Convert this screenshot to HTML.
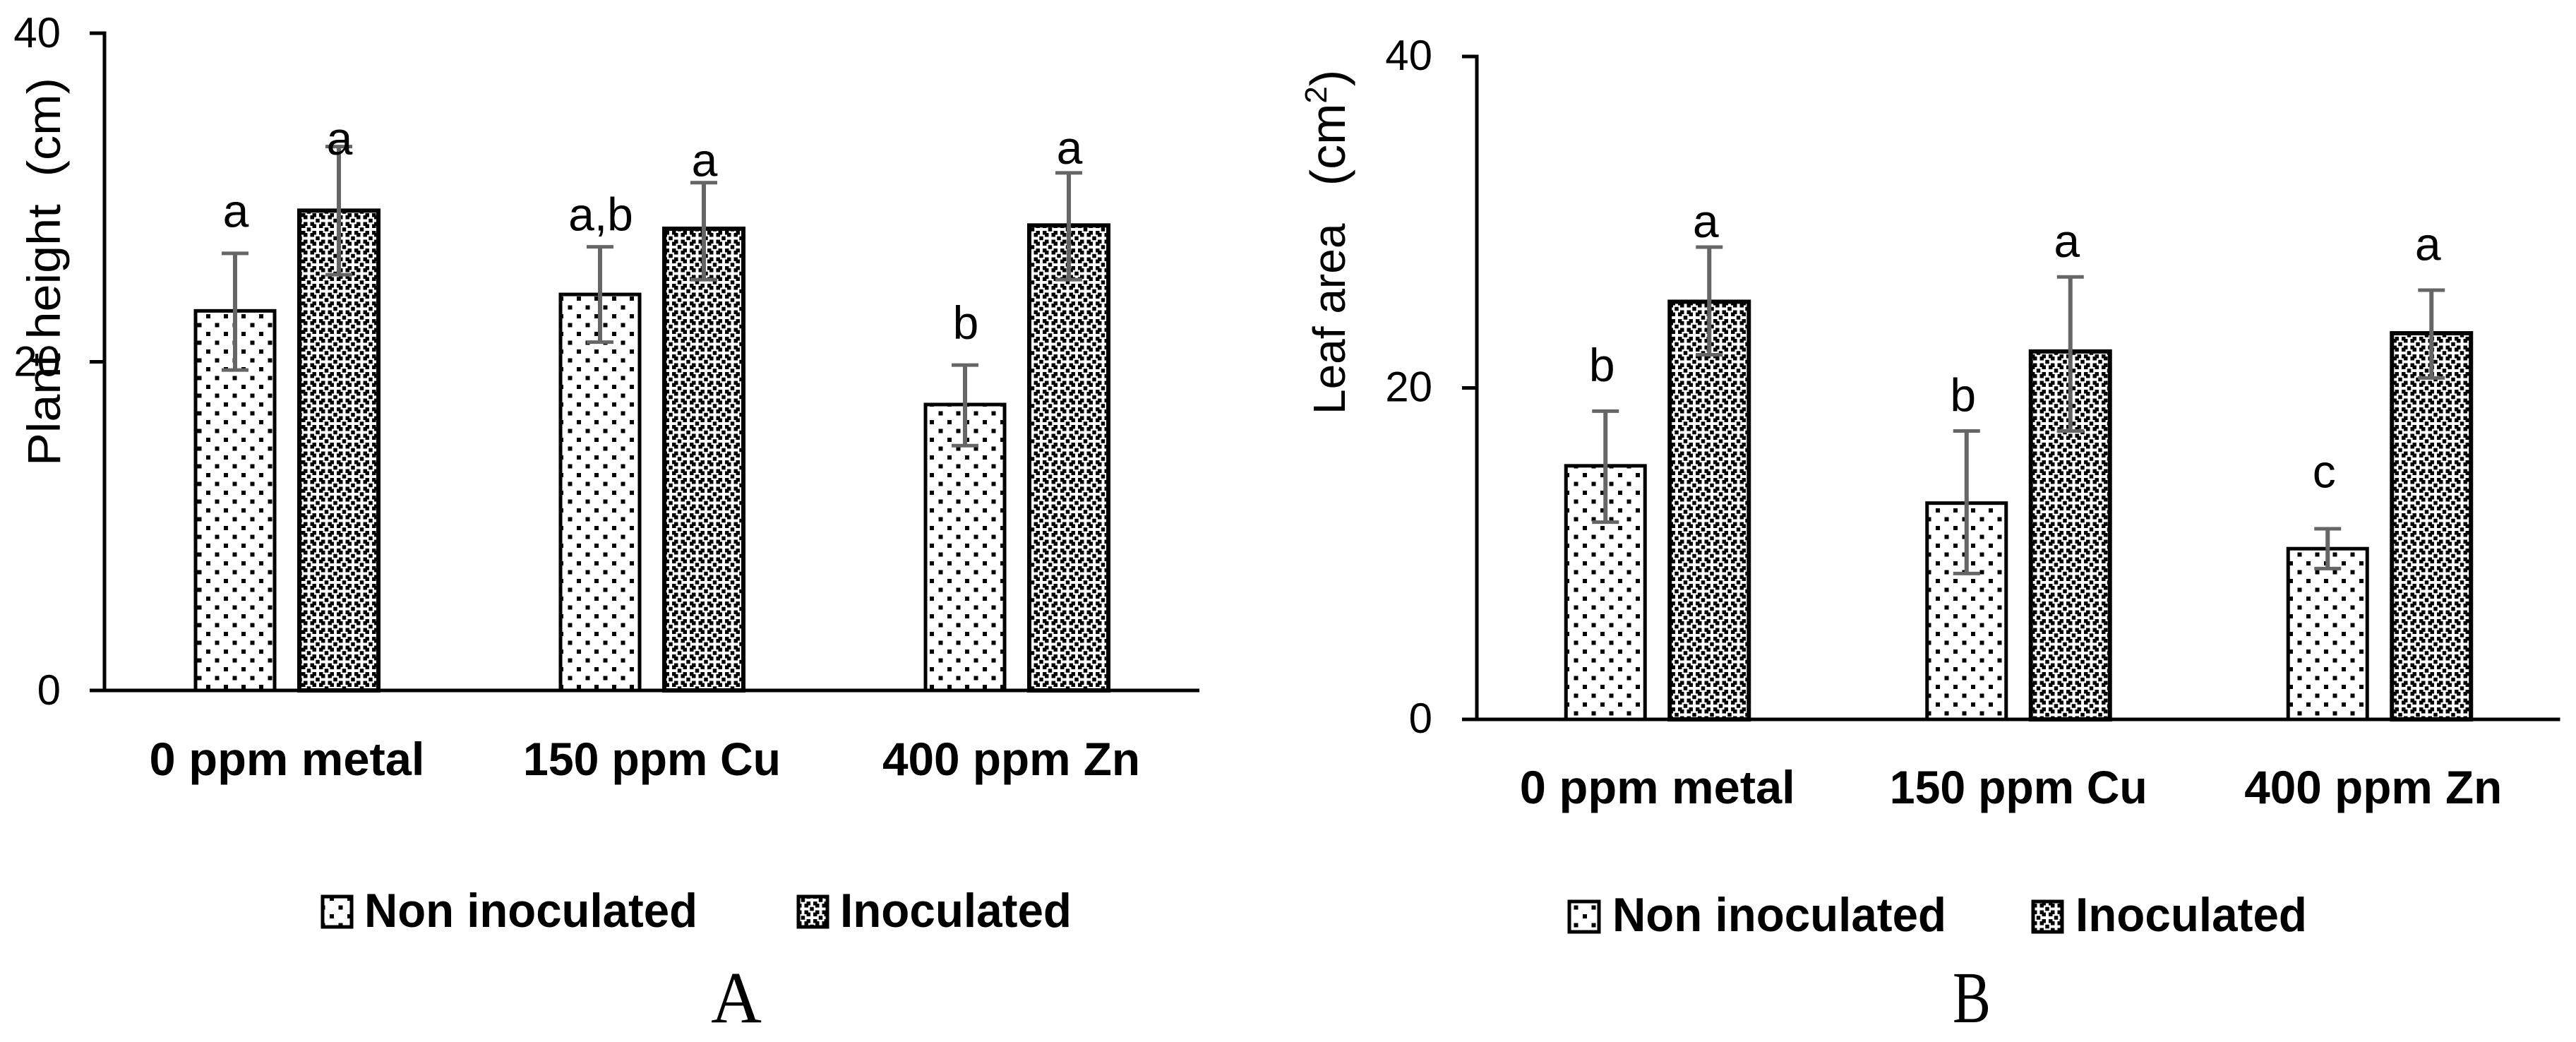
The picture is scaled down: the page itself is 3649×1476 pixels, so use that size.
<!DOCTYPE html>
<html lang="en">
<head>
<meta charset="utf-8">
<title>Plant height and leaf area</title>
<style>
html,body{margin:0;padding:0;background:#fff}
svg{display:block}
text{font-family:"Liberation Sans",sans-serif;fill:#000;white-space:pre}
.b{font-weight:bold}
.s{font-family:"Liberation Serif",serif}
</style>
</head>
<body>
<svg id="chart" xmlns="http://www.w3.org/2000/svg" width="3649" height="1476" viewBox="0 0 3649 1476">
<defs>
<pattern id="dots" patternUnits="userSpaceOnUse" width="25" height="25" patternTransform="translate(4.5 7.5)">
<rect width="25" height="25" fill="#fff"/>
<rect x="0" y="0" width="6" height="6" fill="#000"/>
<rect x="12.5" y="12.5" width="6" height="6" fill="#000"/>
</pattern>
<pattern id="dense" patternUnits="userSpaceOnUse" width="25" height="25">
<rect width="25" height="25" fill="#fff"/>
<rect x="2" y="2" width="5.5" height="5.5" fill="#000"/>
<rect x="17.5" y="2" width="5.5" height="5.5" fill="#000"/>
<rect x="2" y="17.5" width="5.5" height="5.5" fill="#000"/>
<rect x="17.5" y="17.5" width="5.5" height="5.5" fill="#000"/>
<rect x="5" y="5" width="5.5" height="5.5" fill="#000"/>
<rect x="14.5" y="5" width="5.5" height="5.5" fill="#000"/>
<rect x="5" y="14.5" width="5.5" height="5.5" fill="#000"/>
<rect x="14.5" y="14.5" width="5.5" height="5.5" fill="#000"/>
<rect x="9.75" y="-2.75" width="5.5" height="5.5" fill="#000"/>
<rect x="9.75" y="22.25" width="5.5" height="5.5" fill="#000"/>
<rect x="-2.75" y="9.75" width="5.5" height="5.5" fill="#000"/>
<rect x="22.25" y="9.75" width="5.5" height="5.5" fill="#000"/>
</pattern>
</defs>

<g id="panelA"></g>
<g id="panelB"></g>

<text transform="translate(85 660) rotate(-90)" font-size="66" textLength="550" lengthAdjust="spacingAndGlyphs">Plant height  (cm)</text>
<text transform="translate(1905 587) rotate(-90)" font-size="64">Leaf area   <tspan font-size="70">(cm</tspan><tspan font-size="44" dy="-26">2</tspan><tspan font-size="70" dy="26">)</tspan></text>

<g>
<rect x="457" y="1270" width="41" height="43" fill="url(#dots)" stroke="#000" stroke-width="5"/>
<text class="b" x="516" y="1313" font-size="68" textLength="472" lengthAdjust="spacingAndGlyphs">Non inoculated</text>
<rect x="1131" y="1270" width="41" height="43" fill="url(#dense)" stroke="#000" stroke-width="5"/>
<text class="b" x="1190" y="1313" font-size="68" textLength="328" lengthAdjust="spacingAndGlyphs">Inoculated</text>
</g>
<g>
<rect x="2223" y="1277" width="42" height="43" fill="url(#dots)" stroke="#000" stroke-width="5"/>
<text class="b" x="2284" y="1319" font-size="68" textLength="473" lengthAdjust="spacingAndGlyphs">Non inoculated</text>
<rect x="2880" y="1277" width="41" height="43" fill="url(#dense)" stroke="#000" stroke-width="5"/>
<text class="b" x="2940" y="1319" font-size="68" textLength="328" lengthAdjust="spacingAndGlyphs">Inoculated</text>
</g>

<text class="s" x="1007" y="1448" font-size="104" textLength="72" lengthAdjust="spacingAndGlyphs">A</text>
<text class="s" x="2766" y="1448" font-size="104" textLength="54" lengthAdjust="spacingAndGlyphs">B</text>
</svg>

<script>
const categories = ['0 ppm metal', '150 ppm Cu', '400 ppm Zn'];
const tickValues = [0, 20, 40];

const heightNon = [23.1, 24.1, 17.4];
const heightNonUpper = [26.6, 27.0, 19.8];
const heightNonLower = [19.5, 21.2, 14.9];
const heightIno = [29.2, 28.1, 28.3];
const heightInoUpper = [33.1, 30.9, 31.5];
const heightInoLower = [25.3, 25.0, 25.0];
const heightNonLetters = ['a', 'a,b', 'b'];
const heightInoLetters = ['a', 'a', 'a'];
const heightNonLetterAt = [28.2, 28.0, 21.4];
const heightInoLetterAt = [32.6, 31.3, 32.05];

const leafNon = [15.3, 13.05, 10.3];
const leafNonUpper = [18.6, 17.4, 11.5];
const leafNonLower = [11.9, 8.8, 9.1];
const leafIno = [25.2, 22.2, 23.3];
const leafInoUpper = [28.5, 26.7, 25.9];
const leafInoLower = [22.0, 17.4, 20.6];
const leafNonLetters = ['b', 'b', 'c'];
const leafInoLetters = ['a', 'a', 'a'];
const leafNonLetterAt = [20.4, 18.6, 14.0];
const leafInoLetterAt = [29.1, 27.9, 27.7];

const SVGNS = 'http://www.w3.org/2000/svg';

function makeEl(tag, parent) {
  const el = document.createElementNS(SVGNS, tag);
  parent.appendChild(el);
  return el;
}

function setLine(el, x1, y1, x2, y2, color, width) {
  el.setAttribute('x1', x1);
  el.setAttribute('y1', y1);
  el.setAttribute('x2', x2);
  el.setAttribute('y2', y2);
  el.setAttribute('stroke', color);
  el.setAttribute('stroke-width', width);
}

function drawPanel(panel, layout, series) {
  const yScale = v => layout.y0 - (v / 40) * (layout.y0 - layout.y40);
  const center = i => layout.x0 + (i + 0.5) * layout.step;

  tickValues.forEach(v => {
    const tick = makeEl('line', panel);
    
    
    setLine(tick, layout.x0 - 21, yScale(v), layout.x0, yScale(v), '#000', 5);
    const label = makeEl('text', panel);
    
    
    label.setAttribute('x', layout.tickRight);
    label.setAttribute('y', yScale(v) + layout.tickDrop);
    label.setAttribute('font-size', 60);
    label.setAttribute('text-anchor', 'end');
    label.textContent = String(v);
  });

  series.forEach((s, k) => {
    categories.forEach((c, i) => {
      const cx = center(i) + (k === 0 ? -73.5 : 73.5);
      const top = yScale(s.values[i]);
      const bar = makeEl('rect', panel);
      
      
      bar.setAttribute('x', cx - 56);
      bar.setAttribute('y', top);
      bar.setAttribute('width', 112);
      bar.setAttribute('height', layout.y0 - top);
      bar.setAttribute('fill', k === 0 ? 'url(#dots)' : 'url(#dense)');
      bar.setAttribute('stroke', '#000');
      bar.setAttribute('stroke-width', k === 0 ? 5 : 6);

      const hi = yScale(s.upper[i]);
      const lo = yScale(s.lower[i]);
      const stem = makeEl('line', panel);
      
      
      setLine(stem, cx, hi, cx, lo, '#666', 6);
      const capTop = makeEl('line', panel);
      
      
      setLine(capTop, cx - 19, hi, cx + 19, hi, '#666', 5);
      const capBot = makeEl('line', panel);
      
      
      setLine(capBot, cx - 19, lo, cx + 19, lo, '#666', 5);

      const letter = makeEl('text', panel);
      
      
      letter.setAttribute('x', cx + layout.letterShift);
      letter.setAttribute('y', yScale(s.letterAt[i]));
      letter.setAttribute('font-size', 66);
      letter.setAttribute('text-anchor', 'middle');
      letter.textContent = s.letters[i];
    });
  });

  const yAxis = makeEl('line', panel);
  
  
  setLine(yAxis, layout.x0, layout.y40 - 2.5, layout.x0, layout.y0, '#000', 5);
  const xAxis = makeEl('line', panel);
  
  
  setLine(xAxis, layout.x0 - 21, layout.y0, layout.x0 + 3 * layout.step, layout.y0, '#000', 5);

  categories.forEach((c, i) => {
    const label = makeEl('text', panel);
    
    
    label.setAttribute('class', 'b');
    label.setAttribute('x', center(i) + (i === 2 ? layout.lastCatShift : layout.catShift));
    label.setAttribute('y', layout.catY);
    label.setAttribute('font-size', 66);
    label.setAttribute('text-anchor', 'middle');
    label.setAttribute('textLength', i === 0 ? 390 : 365);
    label.setAttribute('lengthAdjust', 'spacingAndGlyphs');
    label.textContent = c;
  });
}

drawPanel(document.getElementById('panelA'),
  { x0: 148, step: 517, y0: 978, y40: 47, tickRight: 86, tickDrop: 20, catShift: 0, lastCatShift: -8, catY: 1098, letterShift: 1 },
  [
    { key: 'non-inoculated', values: heightNon, upper: heightNonUpper, lower: heightNonLower, letters: heightNonLetters, letterAt: heightNonLetterAt },
    { key: 'inoculated', values: heightIno, upper: heightInoUpper, lower: heightInoLower, letters: heightInoLetters, letterAt: heightInoLetterAt }
  ]);

drawPanel(document.getElementById('panelB'),
  { x0: 2092, step: 511.5, y0: 1019, y40: 80, tickRight: 2029, tickDrop: 19, catShift: 0, lastCatShift: -9, catY: 1138, letterShift: -5 },
  [
    { key: 'non-inoculated', values: leafNon, upper: leafNonUpper, lower: leafNonLower, letters: leafNonLetters, letterAt: leafNonLetterAt },
    { key: 'inoculated', values: leafIno, upper: leafInoUpper, lower: leafInoLower, letters: leafInoLetters, letterAt: leafInoLetterAt }
  ]);
</script>
</body>
</html>
